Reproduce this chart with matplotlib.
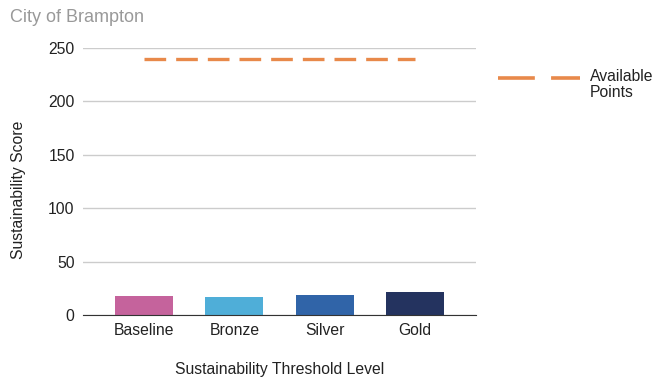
import matplotlib.pyplot as plt
from matplotlib.lines import Line2D

plt.rcParams['font.family'] = ['Liberation Sans', 'DejaVu Sans']

levels = ['Baseline', 'Bronze', 'Silver', 'Gold']
scores = [18.2, 16.9, 19.1, 21.6]
available = [240, 240, 240, 240]
bar_colors = ['#c5639c', '#4faed8', '#3064a8', '#24335f']
line_color = '#e8894a'

fig = plt.figure(figsize=(6.55, 3.77), dpi=100)
ax = fig.add_axes([83 / 655, 1 - 315 / 377, 393 / 655, 267 / 377])

x = list(range(len(levels)))
ax.bar(x, scores, width=0.64, color=bar_colors, zorder=2)
ax.plot(x, available, color=line_color, lw=2.4, dashes=(6.5, 3.0), zorder=3)

ax.set_xlim(-0.676, 3.676)
ax.set_ylim(0, 250)
ax.set_yticks([0, 50, 100, 150, 200, 250])
ax.set_xticks(x)
ax.set_xticklabels(levels)
ax.tick_params(length=0, labelsize=11.3, colors='#222222', pad=6)
ax.grid(axis='y', color='#cccccc', lw=1, zorder=0)
for s in ['top', 'right', 'left']:
    ax.spines[s].set_visible(False)
ax.spines['bottom'].set_color('#333333')
ax.spines['bottom'].set_zorder(4)

ax.set_xlabel('Sustainability Threshold Level', fontsize=11.3, color='#222222', labelpad=17)
ax.set_ylabel('Sustainability Score', fontsize=11.3, color='#222222')
ax.yaxis.set_label_coords(-0.145, 0.47)

# legend drawn by hand so the key sits on the first text line
fig.add_artist(Line2D([498 / 655, 580 / 655], [1 - 77.5 / 377] * 2, transform=fig.transFigure,
                      color=line_color, lw=2.6, dashes=(10.2, 4.5)))
fig.text(590 / 655, 1 - 69 / 377, 'Available\nPoints', fontsize=11.3, color='#222222',
         ha='left', va='top', linespacing=1.1)

fig.text(10 / 655, 1 - 17 / 377, 'City of Brampton', fontsize=13, color='#999999',
         va='center', ha='left')

fig.savefig('out.png', dpi=100)
